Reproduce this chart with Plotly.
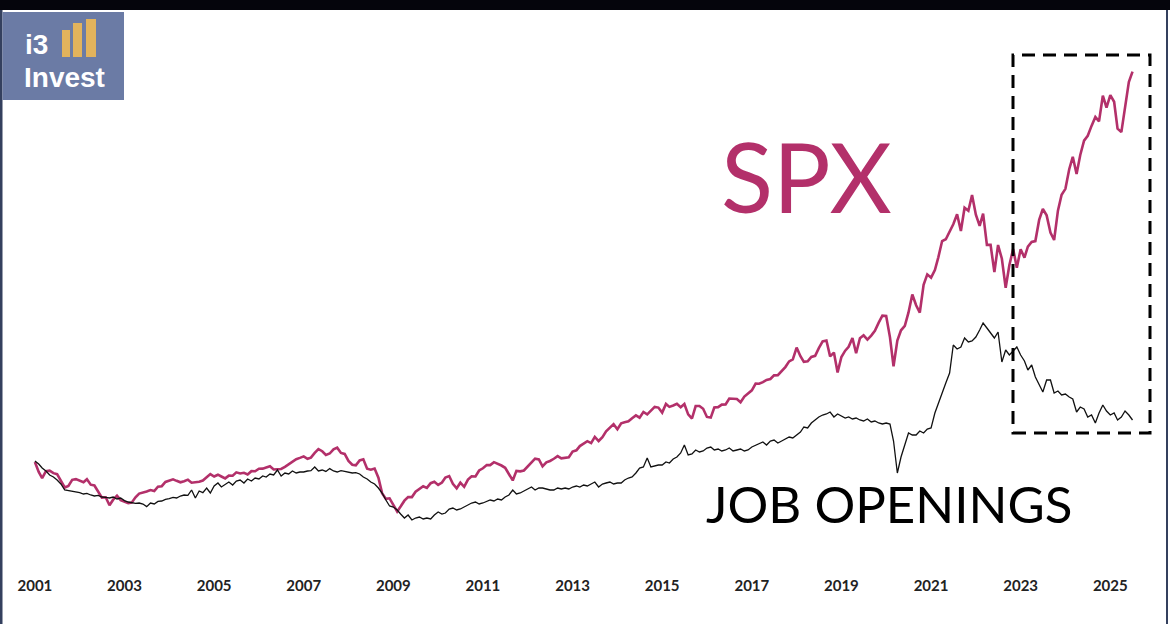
import pandas as pd
import plotly.graph_objects as go

# monthly, Jan 2001 .. Jul 2025
months = pd.date_range("2001-01-01", "2025-07-01", freq="MS")

spx = [
    1366, 1240, 1160, 1249, 1256, 1224, 1211, 1134, 1041, 1060, 1139, 1148,
    1130, 1107, 1147, 1077, 1067, 990, 912, 916, 815, 886, 936, 880,
    856, 841, 848, 917, 964, 975, 990, 1008, 996, 1051, 1058, 1112,
    1131, 1145, 1126, 1107, 1121, 1141, 1102, 1104, 1115, 1130, 1174, 1212,
    1181, 1204, 1181, 1157, 1192, 1191, 1234, 1220, 1229, 1207, 1249, 1248,
    1280, 1281, 1295, 1311, 1270, 1270, 1277, 1304, 1336, 1378, 1401, 1418,
    1438, 1407, 1421, 1482, 1531, 1503, 1455, 1474, 1527, 1549, 1481, 1468,
    1379, 1331, 1323, 1386, 1400, 1280, 1267, 1283, 1165, 969, 896, 903,
    826, 735, 798, 873, 919, 919, 987, 1021, 1057, 1036, 1096, 1115,
    1074, 1104, 1169, 1187, 1089, 1031, 1102, 1049, 1141, 1183, 1181, 1258,
    1286, 1327, 1326, 1364, 1345, 1321, 1292, 1219, 1131, 1253, 1247, 1258,
    1312, 1366, 1408, 1398, 1310, 1362, 1379, 1407, 1441, 1412, 1416, 1426,
    1498, 1515, 1569, 1598, 1631, 1606, 1686, 1633, 1682, 1757, 1806, 1848,
    1783, 1859, 1872, 1884, 1924, 1960, 1931, 2003, 1972, 2018, 2068, 2059,
    1995, 2105, 2068, 2086, 2107, 2063, 2104, 1972, 1920, 2079, 2080, 2044,
    1940, 1932, 2060, 2065, 2097, 2099, 2174, 2171, 2168, 2126, 2199, 2239,
    2279, 2364, 2363, 2384, 2412, 2423, 2470, 2472, 2519, 2575, 2648, 2674,
    2824, 2714, 2641, 2648, 2705, 2718, 2816, 2902, 2914, 2712, 2760, 2507,
    2704, 2784, 2834, 2946, 2752, 2942, 2980, 2926, 2977, 3038, 3141, 3231,
    3226, 2954, 2585, 2912, 3044, 3100, 3271, 3500, 3363, 3270, 3622, 3756,
    3714, 3811, 3973, 4181, 4204, 4298, 4395, 4523, 4308, 4605, 4567, 4766,
    4516, 4374, 4530, 4132, 4132, 3785, 4130, 3955, 3586, 3872, 4080, 3840,
    4077, 3970, 4109, 4169, 4180, 4450, 4589, 4508, 4288, 4194, 4568, 4770,
    4846, 5096, 5254, 5036, 5278, 5460, 5522, 5648, 5762, 5705, 6032, 5882,
    6041, 5955, 5612, 5569, 5912, 6205, 6339,
]

# job openings, millions
job_openings = [
    5.20, 5.05, 4.85, 4.70, 4.50, 4.40, 4.25, 4.05, 3.75, 3.72, 3.68, 3.66,
    3.62, 3.55, 3.58, 3.50, 3.45, 3.48, 3.40, 3.38, 3.35, 3.40, 3.30, 3.35,
    3.22, 3.15, 3.12, 3.08, 3.10, 3.05, 2.92, 3.10, 3.05, 3.18, 3.20, 3.28,
    3.32, 3.38, 3.35, 3.45, 3.50, 3.48, 3.75, 3.35, 3.70, 3.62, 3.85, 3.60,
    3.95, 4.10, 3.90, 4.05, 4.15, 4.00, 4.20, 4.25, 4.10, 4.30, 4.20, 4.35,
    4.30, 4.45, 4.40, 4.55, 4.50, 4.75, 4.45, 4.60, 4.55, 4.70, 4.60, 4.65,
    4.65, 4.70, 4.72, 4.90, 4.70, 4.75, 4.68, 4.82, 4.70, 4.65, 4.72, 4.68,
    4.65, 4.60, 4.62, 4.55, 4.40, 4.30, 4.15, 4.05, 3.85, 3.60, 3.25, 2.95,
    2.90, 2.75, 2.55, 2.35, 2.50, 2.25, 2.35, 2.40, 2.30, 2.35, 2.30, 2.50,
    2.65, 2.55, 2.60, 2.80, 2.85, 2.75, 2.80, 2.90, 3.00, 3.10, 3.15, 3.05,
    3.10, 3.20, 3.25, 3.20, 3.30, 3.25, 3.40, 3.50, 3.75, 3.55, 3.60, 3.70,
    3.80, 3.90, 3.75, 3.85, 3.85, 3.80, 3.75, 3.75, 3.85, 3.80, 3.85, 3.80,
    3.90, 3.95, 3.90, 4.00, 3.95, 4.05, 4.15, 3.90, 4.05, 4.10, 4.15, 4.05,
    4.10, 4.10, 4.25, 4.35, 4.40, 4.60, 4.85, 4.90, 5.35, 4.90, 4.95, 5.00,
    5.00, 5.15, 5.10, 5.30, 5.40, 5.60, 6.00, 5.50, 5.55, 5.75, 5.65, 5.70,
    5.85, 5.90, 5.75, 5.80, 5.70, 5.75, 5.85, 5.70, 5.75, 5.80, 5.70, 5.75,
    5.90, 6.00, 6.05, 6.15, 6.00, 6.20, 6.25, 6.10, 6.20, 6.30, 6.40, 6.35,
    6.50, 6.65, 6.90, 6.85, 7.10, 7.25, 7.40, 7.50, 7.55, 7.65, 7.40, 7.55,
    7.45, 7.35, 7.40, 7.30, 7.35, 7.25, 7.20, 7.30, 7.15, 7.20, 7.10, 7.05,
    7.10, 7.05, 6.20, 4.60, 5.40, 6.00, 6.60, 6.50, 6.50, 6.70, 6.60, 6.80,
    6.85, 7.60, 8.10, 8.60, 9.10, 9.60, 11.00, 10.80, 10.90, 11.35, 11.15, 11.20,
    11.40, 11.75, 12.10, 11.85, 11.60, 11.35, 11.65, 10.15, 10.75, 10.50, 10.70, 10.90,
    10.50, 10.20, 9.75, 10.00, 9.40, 9.00, 8.65, 9.25, 9.25, 8.60, 8.70, 8.50,
    8.55, 8.40, 8.30, 7.65, 7.90, 7.80, 7.40, 7.50, 7.10, 7.60, 8.00, 7.70,
    7.50, 7.60, 7.25, 7.40, 7.70, 7.50, 7.25,
]

tick_years = [str(y) for y in range(2001, 2027, 2)]

W, H = 1170, 624
SPX_COLOR = "#b3306a"


def px_x(p):
    return p / W


def px_y(p):
    return 1 - p / H


fig = go.Figure()
fig.add_trace(go.Scatter(x=months, y=job_openings, mode="lines", yaxis="y2",
                         line=dict(color="#111111", width=1.3), name="Job openings"))
fig.add_trace(go.Scatter(x=months, y=spx, mode="lines",
                         line=dict(color=SPX_COLOR, width=2.6), name="SPX"))

fig.update_layout(
    width=W, height=H,
    margin=dict(l=0, r=0, t=0, b=0),
    paper_bgcolor="white", plot_bgcolor="white",
    showlegend=False,
    xaxis=dict(domain=[px_x(10), px_x(1160)], range=["2000-06-12", "2026-02-10"],
               tickvals=[f"{y}-01-01" for y in tick_years], ticktext=tick_years,
               showgrid=False, zeroline=False, showline=False, ticks="",
               ticklabelstandoff=5,
               tickfont=dict(family="Lato", size=15, color="#222222", weight="bold")),
    yaxis=dict(domain=[px_y(570), px_y(40)], range=[-10, 6742], visible=False),
    yaxis2=dict(range=[-0.25, 26.25], overlaying="y", visible=False),
)

shapes = [
    # frame
    dict(type="rect", xref="paper", yref="paper", x0=0, x1=1, y0=px_y(10), y1=1,
         fillcolor="#05050c", line_width=0, layer="above"),
    dict(type="rect", xref="paper", yref="paper", x0=0, x1=px_x(2.5), y0=0, y1=px_y(10),
         fillcolor="#34405e", line_width=0, layer="above"),
    dict(type="rect", xref="paper", yref="paper", x0=px_x(1166), x1=px_x(1168), y0=0, y1=px_y(10),
         fillcolor="#34405e", line_width=0, layer="above"),
    # logo
    dict(type="rect", xref="paper", yref="paper", x0=px_x(2.5), x1=px_x(124), y0=px_y(100), y1=px_y(12),
         fillcolor="#6b7ba5", line_width=0, layer="above"),
    dict(type="rect", xref="paper", yref="paper", x0=px_x(62), x1=px_x(70), y0=px_y(57), y1=px_y(30),
         fillcolor="#e2b35c", line_width=0, layer="above"),
    dict(type="rect", xref="paper", yref="paper", x0=px_x(73), x1=px_x(82), y0=px_y(57), y1=px_y(23),
         fillcolor="#e2b35c", line_width=0, layer="above"),
    dict(type="rect", xref="paper", yref="paper", x0=px_x(86), x1=px_x(96), y0=px_y(57), y1=px_y(19),
         fillcolor="#e2b35c", line_width=0, layer="above"),
    # highlight box
    dict(type="rect", xref="paper", yref="paper", x0=px_x(1013), x1=px_x(1150), y0=px_y(433), y1=px_y(55),
         line=dict(color="black", width=3, dash="13px,8px"), fillcolor="rgba(0,0,0,0)"),
]
fig.update_layout(shapes=shapes)

annotations = [
    dict(text="i3", x=px_x(23), y=px_y(45), xanchor="left", yanchor="middle",
         font=dict(family="Liberation Sans", size=28, color="white", weight="bold")),
    dict(text="Invest", x=px_x(22), y=px_y(77), xanchor="left", yanchor="middle",
         font=dict(family="Liberation Sans", size=28, color="white", weight="bold")),
    dict(text="SPX", x=px_x(806), y=px_y(175), xanchor="center", yanchor="middle",
         font=dict(family="Lato", size=96, color=SPX_COLOR)),
    dict(text="JOB OPENINGS", x=px_x(889), y=px_y(503), xanchor="center", yanchor="middle",
         font=dict(family="Lato", size=51, color="black")),
]
for a in annotations:
    a.update(xref="paper", yref="paper", showarrow=False)
fig.update_layout(annotations=annotations)

# drop the page's default body margin so the figure sits at the window's corner
fig.write_html("out.html", config={"displayModeBar": False},
               post_script="document.body.style.margin='0';")
